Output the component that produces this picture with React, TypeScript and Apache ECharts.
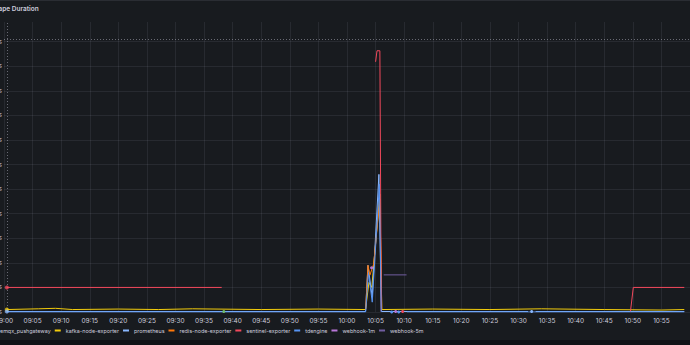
import React, { useEffect, useRef } from "react";
import * as echarts from "echarts";

type Pt = [string, number | null];

const X_MIN = "09:00:00";
const X_MAX = "11:00:00";
const TITLE = "Scrape Duration";
const SERIES_NAMES = [
  "emqx_pushgateway",
  "kafka-node-exporter",
  "prometheus",
  "redis-node-exporter",
  "sentinel-exporter",
  "tdengine",
  "webhook-1m",
  "webhook-5m",
];
const COLORS = ["#73BF69", "#F2CC0C", "#8AB8FF", "#FF780A", "#F2495C", "#5794F2", "#B877D9", "#705DA0"];

const emqxPushgateway: Pt[] = [["09:38:27", 0.02]];
const kafkaNodeExporter: Pt[] = [
  ["09:00:30", 0.1], ["09:06:00", 0.13], ["09:09:00", 0.15], ["09:12:00", 0.1], ["09:20:00", 0.12],
  ["09:27:00", 0.1], ["09:33:00", 0.13], ["09:45:00", 0.1], ["09:55:00", 0.12], ["10:03:15", 0.1],
  ["10:03:50", 1.2], ["10:04:20", 1.0], ["10:05:45", 4.8], ["10:06:05", 0.1], ["10:15:00", 0.12],
  ["10:25:00", 0.1], ["10:34:00", 0.13], ["10:45:00", 0.1], ["10:55:00", 0.08], ["10:59:00", 0.1],
];
const prometheus: Pt[] = [
  ["09:00:30", 0.02], ["10:03:15", 0.02], ["10:03:40", 1.9], ["10:04:25", 0.6], ["10:05:35", 5.6],
  ["10:06:00", 0.02], ["10:31:40", 0.02], ["10:31:50", null], ["10:32:18", 0.02], ["10:32:40", null],
  ["10:33:00", 0.02], ["10:59:00", 0.02],
];
const redisNodeExporter: Pt[] = [
  ["10:03:15", 0.1], ["10:03:40", 1.9], ["10:04:00", 1.5], ["10:04:40", 1.95], ["10:05:45", 4.6],
  ["10:06:05", 0.1],
];
const sentinelExporter: Pt[] = [
  ["09:00:30", 1], ["09:38:05", 1], ["09:38:20", null], ["10:05:00", 10.18], ["10:05:15", 10.63],
  ["10:05:45", 10.63], ["10:06:00", 0.02], ["10:06:15", null], ["10:09:44", 0.02], ["10:10:00", null],
  ["10:49:35", 0.02], ["10:50:05", 1], ["10:59:00", 1],
];
const tdengine: Pt[] = [
  ["09:00:30", 0], ["10:03:15", 0], ["10:03:45", 1.6], ["10:04:25", 0.4], ["10:05:40", 5.2],
  ["10:06:00", 0], ["10:06:15", null], ["10:07:49", 0], ["10:08:10", null], ["10:09:03", 0],
  ["10:09:20", null], ["10:10:30", 0], ["10:59:00", 0],
];
const webhook1m: Pt[] = [["10:04:18", 1.8], ["10:04:30", null], ["10:08:31", 0.02]];
const webhook5m: Pt[] = [["10:06:25", 1.51], ["10:10:25", 1.51]];

const SERIES_DATA: Pt[][] = [
  emqxPushgateway, kafkaNodeExporter, prometheus, redisNodeExporter,
  sentinelExporter, tdengine, webhook1m, webhook5m,
];

const HOVER_Y = 11.08;

const toMs = (s: string) => {
  const [h, m, sec] = s.split(":").map(Number);
  return Date.UTC(2024, 0, 1, h, m, sec || 0);
};
const pad = (n: number) => (n < 10 ? "0" + n : "" + n);

const TEXT = "#ccccdc";
const GRID = "rgba(204,204,220,0.09)";
const FONT = "Inter";

function buildSeries(pts: Pt[], name: string, color: string) {
  const data = pts.map((p, i) => {
    const v = p[1];
    const value = [toMs(p[0]), v === null ? null : v];
    if (v === null) return { value };
    const prevNull = i === 0 || pts[i - 1][1] === null;
    const nextNull = i === pts.length - 1 || pts[i + 1][1] === null;
    if (prevNull && nextNull) {
      return { value, symbol: "circle", symbolSize: 3 };
    }
    return { value };
  });
  return {
    name,
    type: "line",
    data,
    color,
    symbol: "none",
    showSymbol: true,
    connectNulls: false,
    lineStyle: { width: 1, color },
    itemStyle: { color },
    emphasis: { disabled: true },
  };
}

export default function App() {
  const ref = useRef<HTMLDivElement>(null);
  useEffect(() => {
    if (!ref.current) return;
    const chart = echarts.init(ref.current, null, { renderer: "svg" });
    const series: any[] = SERIES_NAMES.map((n, i) => buildSeries(SERIES_DATA[i], n, COLORS[i]));
    const hoverIdx = [4, 1, 2];
    series.push({
      name: "hover",
      type: "scatter",
      symbolSize: 4,
      z: 5,
      data: hoverIdx.map((i) => ({
        value: [toMs(SERIES_DATA[i][0][0]), SERIES_DATA[i][0][1]],
        itemStyle: { color: COLORS[i] },
      })),
      markLine: {
        silent: true,
        symbol: "none",
        label: { show: false },
        lineStyle: { color: "rgba(204,204,220,0.45)", type: [1, 2], width: 1 },
        data: [{ xAxis: toMs(sentinelExporter[0][0]) }, { yAxis: HOVER_Y }],
      },
    });
    chart.setOption({
      animation: false,
      backgroundColor: "#181b1f",
      textStyle: { fontFamily: FONT },
      grid: { left: 4, right: 0, top: 22, bottom: 33, containLabel: false, outerBoundsMode: "none" },
      legend: {
        data: SERIES_NAMES,
        left: -11,
        top: 328,
        icon: "rect",
        itemWidth: 6,
        itemHeight: 2,
        itemGap: 4,
        padding: 0,
        textStyle: { color: TEXT, fontSize: 5.4, fontFamily: FONT },
      },
      xAxis: {
        type: "value",
        min: toMs(X_MIN),
        max: toMs(X_MAX),
        interval: 5 * 60 * 1000,
        axisLine: { show: false },
        axisTick: { show: false },
        axisLabel: {
          color: TEXT,
          fontSize: 6.5,
          margin: 5,
          showMaxLabel: false,
          formatter: (v: number) => {
            const d = new Date(v);
            return pad(d.getUTCHours()) + ":" + pad(d.getUTCMinutes());
          },
        },
        splitLine: { show: true, lineStyle: { color: GRID, width: 1 } },
      },
      yAxis: {
        type: "value",
        min: 0,
        max: 11.8,
        interval: 1,
        axisLine: { show: false },
        axisTick: { show: false },
        axisLabel: { color: TEXT, fontSize: 6.5, margin: 2, showMaxLabel: false, formatter: "{value} s" },
        splitLine: { show: true, showMaxLine: false, lineStyle: { color: GRID, width: 1 } },
      },
      graphic: [
        { type: "rect", shape: { x: 0, y: 0, width: 690, height: 1 }, style: { fill: "#2a2d33" }, silent: true },
        { type: "rect", shape: { x: 0, y: 340, width: 690, height: 5 }, style: { fill: "#111217" }, silent: true },
        {
          type: "text",
          x: -12,
          y: 8.5,
          style: { text: TITLE, fill: TEXT, fontSize: 6.5, fontWeight: 600, fontFamily: FONT, verticalAlign: "middle" },
          silent: true,
        },
      ],
      series,
    });
    return () => chart.dispose();
  }, []);
  return <div ref={ref} style={{ position: "fixed", left: 0, top: 0, width: 690, height: 345 }} />;
}
